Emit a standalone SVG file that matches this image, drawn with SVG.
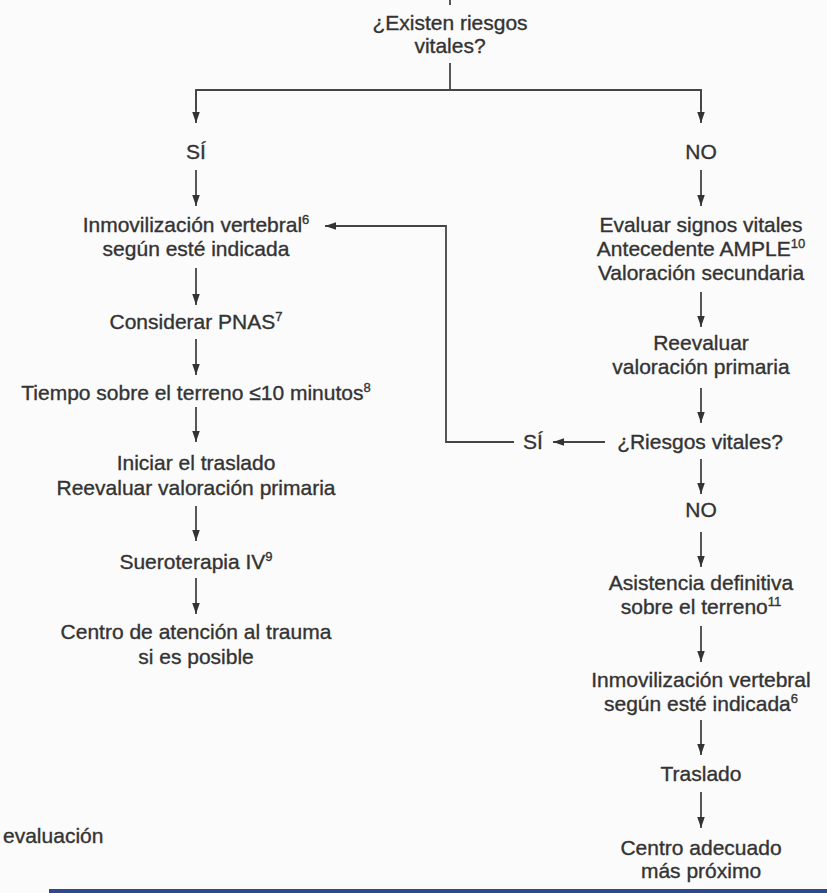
<svg xmlns="http://www.w3.org/2000/svg" width="827" height="893" viewBox="0 0 827 893">
  <style>
    .t { font-family: "Liberation Sans", Arial, Helvetica, sans-serif; font-size: 21px; fill: #333333; stroke: #333333; stroke-width: 0.35; text-anchor: middle; }
    .sup { font-size: 13px; }
    .ln { stroke: #454545; stroke-width: 1.8; fill: none; }
    .ar { stroke: #454545; stroke-width: 1.8; fill: none; marker-end: url(#head); }
  </style>
  <defs>
    <marker id="head" markerUnits="userSpaceOnUse" markerWidth="12" markerHeight="8" refX="11" refY="3.75" orient="auto">
      <path d="M0,0 L11,3.75 L0,7.5 Z" fill="#333333"/>
    </marker>
  </defs>

  <rect width="827" height="893" fill="#fbfbfb"/>

  <!-- connectors -->
  <g id="connectors">
    <line class="ln" x1="450" y1="0" x2="450" y2="5"/>
    <line class="ln" x1="450" y1="63" x2="450" y2="90"/>
    <polyline class="ln" points="196,110 196,90 701,90 701,110"/>
    <line class="ar" x1="196" y1="90" x2="196" y2="123"/>
    <line class="ar" x1="701" y1="90" x2="701" y2="123"/>

    <!-- left branch -->
    <line class="ar" x1="196" y1="170" x2="196" y2="206"/>
    <line class="ar" x1="196" y1="268" x2="196" y2="305"/>
    <line class="ar" x1="196" y1="339" x2="196" y2="375"/>
    <line class="ar" x1="196" y1="407" x2="196" y2="442"/>
    <line class="ar" x1="196" y1="506" x2="196" y2="541"/>
    <line class="ar" x1="196" y1="578" x2="196" y2="614"/>

    <!-- right branch -->
    <line class="ar" x1="701" y1="170" x2="701" y2="206"/>
    <line class="ar" x1="701" y1="292" x2="701" y2="327"/>
    <line class="ar" x1="701" y1="388" x2="701" y2="423"/>
    <line class="ar" x1="701" y1="459" x2="701" y2="494"/>
    <line class="ar" x1="701" y1="532" x2="701" y2="567"/>
    <line class="ar" x1="701" y1="626" x2="701" y2="662"/>
    <line class="ar" x1="701" y1="720" x2="701" y2="755"/>
    <line class="ar" x1="701" y1="792" x2="701" y2="828"/>

    <!-- yes branch back to spinal immobilisation -->
    <line class="ar" x1="605" y1="442" x2="553" y2="442"/>
    <polyline class="ln" points="514,442 446,442 446,226 360,226"/>
    <line class="ar" x1="360" y1="226" x2="325" y2="226"/>
  </g>

  <!-- top decision -->
  <g id="n-existen">
    <text class="t" x="450" y="30">¿Existen riesgos</text>
    <text class="t" x="450" y="53">vitales?</text>
  </g>

  <!-- left column -->
  <g id="n-si"><text class="t" x="196" y="159">SÍ</text></g>
  <g id="n-inmov-left">
    <text class="t" x="196" y="232">Inmovilización vertebral<tspan class="sup" dy="-8">6</tspan></text>
    <text class="t" x="196" y="256">según esté indicada</text>
  </g>
  <g id="n-pnas"><text class="t" x="196" y="329">Considerar PNAS<tspan class="sup" dy="-8">7</tspan></text></g>
  <g id="n-tiempo"><text class="t" x="196" y="400">Tiempo sobre el terreno ≤10 minutos<tspan class="sup" dy="-8">8</tspan></text></g>
  <g id="n-traslado-left">
    <text class="t" x="196" y="470">Iniciar el traslado</text>
    <text class="t" x="196" y="495">Reevaluar valoración primaria</text>
  </g>
  <g id="n-suero"><text class="t" x="196" y="569">Sueroterapia IV<tspan class="sup" dy="-8">9</tspan></text></g>
  <g id="n-centro-trauma">
    <text class="t" x="196" y="639">Centro de atención al trauma</text>
    <text class="t" x="196" y="664">si es posible</text>
  </g>

  <!-- right column -->
  <g id="n-no"><text class="t" x="701" y="159">NO</text></g>
  <g id="n-evaluar">
    <text class="t" x="701" y="232">Evaluar signos vitales</text>
    <text class="t" x="701" y="256">Antecedente AMPLE<tspan class="sup" dy="-8">10</tspan></text>
    <text class="t" x="701" y="280">Valoración secundaria</text>
  </g>
  <g id="n-reevaluar">
    <text class="t" x="701" y="350">Reevaluar</text>
    <text class="t" x="701" y="374">valoración primaria</text>
  </g>
  <g id="n-riesgos"><text class="t" x="700" y="449">¿Riesgos vitales?</text></g>
  <g id="n-si-loop"><text class="t" x="533" y="449">SÍ</text></g>
  <g id="n-no-2"><text class="t" x="701" y="517">NO</text></g>
  <g id="n-asistencia">
    <text class="t" x="701" y="590">Asistencia definitiva</text>
    <text class="t" x="701" y="614">sobre el terreno<tspan class="sup" dy="-8">11</tspan></text>
  </g>
  <g id="n-inmov-right">
    <text class="t" x="701" y="687">Inmovilización vertebral</text>
    <text class="t" x="701" y="711">según esté indicada<tspan class="sup" dy="-8">6</tspan></text>
  </g>
  <g id="n-traslado-right"><text class="t" x="701" y="781">Traslado</text></g>
  <g id="n-centro-adecuado">
    <text class="t" x="701" y="855">Centro adecuado</text>
    <text class="t" x="701" y="878">más próximo</text>
  </g>

  <!-- stray caption fragment at the left edge -->
  <g id="n-evaluacion"><text class="t" x="3" y="843" style="text-anchor:start">evaluación</text></g>

  <!-- bottom rule -->
  <rect x="49" y="889" width="778" height="4" fill="#2f4a8c"/>
</svg>
